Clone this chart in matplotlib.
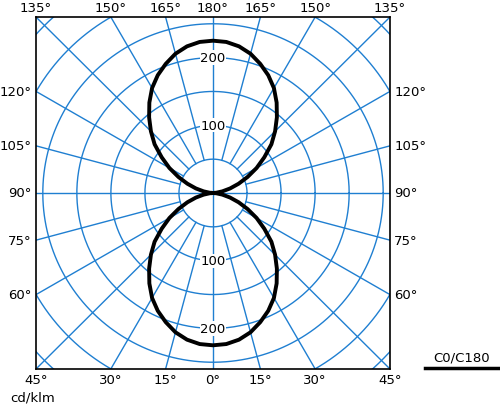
import numpy as np
import matplotlib.pyplot as plt

# luminous intensity (cd/klm) vs gamma angle, C0/C180 plane
gamma = [0, 5, 10, 15, 20, 25, 30, 35, 40, 45, 50, 55, 60, 65, 70, 75, 80, 85, 90]
intensity = [225, 224, 220, 213, 203, 192, 179, 163, 146, 129, 112, 92, 74, 56, 40, 26, 14, 5, 0]
ring_values = [50, 100, 150, 200, 250, 300, 350]
ring_labels = [100, 200]
side_labels = [120, 105, 90, 75, 60]
top_labels = [135, 150, 165, 180, 165, 150, 135]
bottom_labels = [45, 30, 15, 0, 15, 30, 45]

blue = "#1f7fd1"
R = 260  # half size of the square frame in cd/klm

fig = plt.figure(figsize=(5, 4.06), dpi=100)
ax = fig.add_axes([36 / 500, 36 / 406, 354 / 500, 352 / 406])
ax.set_xlim(-R, R)
ax.set_ylim(-R, R)
ax.set_xticks([])
ax.set_yticks([])
for s in ax.spines.values():
    s.set_linewidth(1.2)

t = np.linspace(0, 2 * np.pi, 400)
for r in ring_values:
    ax.plot(r * np.cos(t), r * np.sin(t), color=blue, lw=1.0, zorder=1)

# radial lines every 15 deg; 0 deg points down
for a in range(0, 360, 15):
    th = np.radians(a)
    r0 = 0 if a % 90 == 0 else 50
    ax.plot([r0 * np.sin(th), 600 * np.sin(th)],
            [-r0 * np.cos(th), -600 * np.cos(th)], color=blue, lw=1.0, zorder=1)

# intensity curve, mirrored on both sides and both halves
g = np.radians(np.array(gamma))
I = np.array(intensity)
gg = np.concatenate([-g[::-1], g[1:]])
II = np.concatenate([I[::-1], I[1:]])
for sgn in (1, -1):
    ax.plot(II * np.sin(gg), -sgn * II * np.cos(gg), color="black", lw=2.8,
            solid_joinstyle="round", zorder=3)

for v in ring_labels:
    for sgn in (1, -1):
        ax.text(0, sgn * v, str(v), ha="center", va="center", fontsize=9.5,
                bbox=dict(facecolor="white", edgecolor="none", pad=0.5), zorder=2)

fs = 9.5
for k, lab in enumerate(top_labels):
    x = R * np.tan(np.radians((k - 3) * 15))
    ax.text(x, R + 4, f"{lab}°", ha="center", va="bottom", fontsize=fs, clip_on=False)
for k, lab in enumerate(bottom_labels):
    x = R * np.tan(np.radians((k - 3) * 15))
    ax.text(x, -R - 6, f"{lab}°", ha="center", va="top", fontsize=fs, clip_on=False)
for lab in side_labels:
    y = R * np.tan(np.radians(lab - 90))
    ax.text(-R - 6, y, f"{lab}°", ha="right", va="center", fontsize=fs, clip_on=False)
    ax.text(R + 6, y, f"{lab}°", ha="left", va="center", fontsize=fs, clip_on=False)

fig.text(10 / 500, 1 - 398 / 406, "cd/klm", fontsize=fs, va="center")
fig.text(462 / 500, 1 - 358 / 406, "C0/C180", fontsize=fs, ha="center", va="center")
fig.add_artist(plt.Line2D([425 / 500, 498 / 500], [1 - 369 / 406] * 2, color="black", lw=2.5))

fig.savefig("out.png", dpi=100)
